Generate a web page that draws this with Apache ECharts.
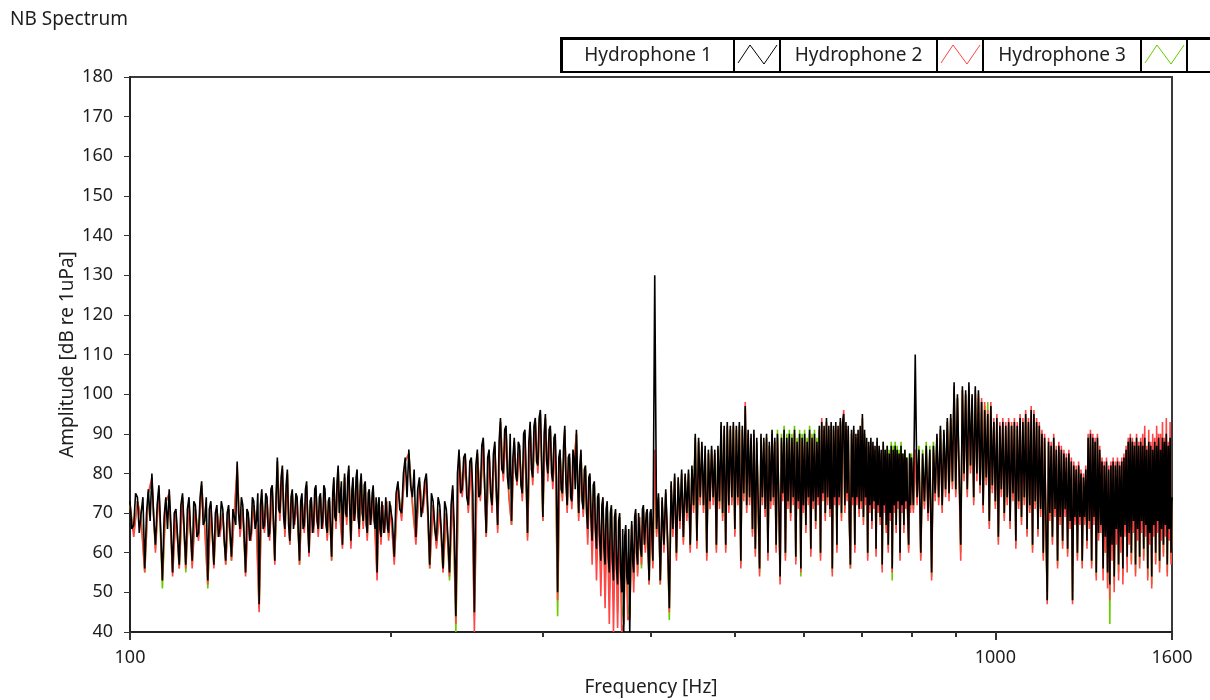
<!DOCTYPE html>
<html>
<head>
<meta charset="utf-8">
<title>NB Spectrum</title>
<script src="https://cdn.jsdelivr.net/npm/echarts@6/dist/echarts.min.js"></script>
<style>
  html, body { margin: 0; padding: 0; background: #fff; }
  #chart { width: 1210px; height: 700px; }
</style>
</head>
<body>
<div id="chart"></div>
<script>
// frequency bins, one octave per band: f = bandStart + i * step (Hz)
const bandStart = [100, 200, 400, 800]
const h1Step = [0.5, 1, 2, 4]   // hydrophone 1 has the finer resolution at low f
const h23Step = [1, 2, 2, 4]

const seriesNames = ['Hydrophone 1', 'Hydrophone 2', 'Hydrophone 3']
const seriesColors = ['#000000', '#ff4545', '#66cc00']

const yTicks = [40, 180, 10] // min, max, interval
const xMajorTicks = [100, 1000, 1600]
const xMinorTicks = [200, 300, 400, 500, 600, 700, 800, 900]

// Hydrophone 1 [dB re 1uPa]
const h1Band1 = [
  73, 66, 67, 75, 74, 65, 70, 74, 56, 70, 76, 68, 80, 69, 62, 72, 77, 66, 53, 69,
  74, 66, 76, 67, 55, 70, 71, 64, 57, 72, 75, 66, 57, 71, 74, 65, 58, 73, 72, 64,
  65, 74, 78, 67, 68, 74, 53, 71, 73, 65, 57, 70, 72, 64, 66, 73, 71, 63, 58, 70,
  72, 65, 59, 71, 71, 67, 83, 70, 66, 74, 72, 64, 55, 71, 70, 63, 65, 74, 73, 66,
  68, 75, 47, 72, 76, 66, 67, 75, 74, 64, 65, 76, 77, 68, 58, 74, 84, 71, 70, 79,
  82, 69, 66, 77, 81, 67, 63, 74, 76, 66, 69, 75, 74, 65, 58, 73, 75, 66, 67, 76,
  78, 67, 60, 73, 74, 65, 67, 76, 77, 68, 66, 74, 75, 66, 68, 77, 76, 67, 65, 73,
  74, 66, 59, 75, 79, 69, 68, 78, 82, 70, 70, 78, 62, 73, 80, 70, 69, 79, 82, 71,
  63, 76, 79, 68, 70, 79, 81, 69, 66, 77, 80, 70, 68, 77, 78, 67, 65, 75, 76, 67,
  69, 75, 77, 68, 66, 74, 55, 72, 74, 66, 64, 73, 73, 65, 67, 74, 74, 66, 65, 73
]
const h1Band2 = [
  73, 68, 59, 75, 78, 71, 70, 80, 84, 74, 86, 77, 74, 81, 64, 76, 79, 69, 72, 78,
  80, 70, 57, 75, 73, 66, 63, 74, 72, 65, 56, 73, 71, 64, 55, 72, 77, 66, 44, 80,
  86, 75, 76, 84, 85, 74, 72, 83, 84, 75, 45, 82, 86, 74, 75, 87, 89, 76, 65, 84,
  86, 75, 72, 85, 88, 76, 67, 88, 94, 81, 80, 91, 92, 79, 76, 90, 68, 84, 89, 80,
  78, 88, 87, 77, 75, 90, 91, 79, 65, 88, 93, 81, 79, 92, 94, 83, 82, 94, 96, 84,
  69, 90, 95, 83, 80, 91, 92, 80, 78, 89, 90, 79, 50, 84, 86, 76, 75, 87, 92, 78,
  72, 84, 85, 74, 73, 86, 84, 76, 91, 78, 70, 82, 86, 73, 71, 81, 82, 70, 66, 79,
  80, 69, 63, 77, 78, 66, 61, 74, 75, 63, 58, 72, 74, 61, 57, 71, 73, 59, 55, 70,
  72, 58, 53, 69, 71, 56, 52, 68, 70, 55, 50, 66, 40, 64, 67, 54, 52, 66, 40, 60,
  68, 58, 55, 69, 71, 60, 57, 70, 70, 61, 59, 71, 72, 62, 62, 70, 71, 60, 53, 70
]
const h1Band3 = [
  71, 58, 130, 66, 75, 53, 74, 62, 76, 64,
  46, 78, 66, 80, 60, 79, 68, 81, 64, 80,
  70, 81, 62, 82, 72, 90, 63, 89, 74, 88,
  72, 87, 60, 86, 73, 87, 74, 86, 62, 87,
  73, 93, 70, 92, 62, 93, 72, 92, 74, 93,
  66, 92, 74, 93, 58, 92, 75, 97, 72, 91,
  74, 90, 66, 91, 61, 89, 73, 56, 90, 74,
  89, 71, 90, 60, 88, 73, 91, 74, 89, 62,
  90, 74, 54, 89, 75, 91, 60, 89, 73, 90,
  70, 89, 74, 91, 59, 88, 73, 90, 56, 89,
  72, 90, 67, 88, 74, 91, 61, 89, 73, 90,
  68, 88, 74, 92, 60, 93, 75, 92, 70, 94,
  74, 92, 71, 93, 56, 92, 74, 93, 62, 92,
  74, 94, 70, 93, 95, 72, 93, 75, 92, 69,
  57, 91, 74, 92, 62, 90, 74, 91, 71, 92,
  73, 95, 69, 91, 74, 89, 60, 88, 72, 89,
  68, 88, 73, 87, 61, 89, 72, 87, 69, 86,
  57, 88, 72, 86, 67, 87, 62, 85, 70, 87,
  56, 86, 72, 87, 67, 86, 73, 85, 60, 87,
  72, 85, 67, 86, 73, 84, 70, 62, 85, 72
]
const h1Band4 = [
  84, 72, 110, 74, 86, 60, 85, 73, 87, 70,
  86, 55, 87, 75, 90, 74, 92, 72, 91, 76,
  94, 75, 95, 78, 103, 76, 100, 81, 62, 102,
  80, 101, 76, 103, 82, 100, 74, 102, 80, 101,
  77, 98, 72, 96, 79, 95, 68, 97, 77, 93,
  73, 94, 64, 92, 76, 93, 70, 92, 74, 93,
  68, 92, 75, 93, 63, 92, 73, 94, 69, 93,
  74, 95, 66, 93, 72, 96, 62, 95, 73, 93,
  66, 92, 71, 90, 60, 89, 68, 48, 88, 70,
  87, 64, 89, 71, 86, 58, 87, 69, 86, 63,
  85, 71, 84, 61, 85, 68, 83, 48, 82, 69,
  81, 60, 82, 69, 80, 58, 79, 69, 81, 63,
  89, 68, 90, 58, 89, 69, 88, 55, 89, 65,
  86, 67, 83, 56, 82, 64, 83, 55, 81, 52,
  82, 62, 83, 54, 82, 66, 83, 57, 82, 64,
  83, 56, 84, 67, 86, 59, 88, 65, 89, 60,
  88, 68, 87, 57, 89, 66, 87, 59, 88, 68,
  87, 61, 89, 67, 86, 56, 88, 65, 87, 54,
  86, 67, 88, 60, 87, 68, 89, 58, 86, 66,
  89, 62, 88, 67, 90, 57, 87, 66, 89, 60,
  74
]

// Hydrophone 2
const h2Band1 = [
  72, 64, 73, 68, 55, 75, 79, 60, 76, 53,
  73, 75, 54, 70, 56, 74, 56, 73, 56, 71,
  63, 77, 66, 52, 72, 56, 71, 64, 70, 57,
  71, 58, 70, 82, 64, 71, 54, 69, 63, 72,
  66, 45, 75, 65, 73, 63, 76, 57, 83, 68,
  81, 64, 80, 62, 75, 67, 73, 57, 74, 65,
  77, 59, 73, 65, 76, 64, 74, 66, 75, 63,
  73, 58, 78, 66, 81, 68, 61, 79, 67, 81,
  61, 78, 68, 80, 64, 79, 66, 77, 63, 75,
  67, 76, 64, 53, 73, 62, 72, 65, 73, 63
]
const h2Band2 = [
  72, 57, 77, 68, 83, 85, 72, 62, 78, 70,
  79, 56, 72, 61, 71, 55, 70, 54, 76, 42,
  85, 74, 84, 70, 83, 40, 85, 73, 88, 64,
  85, 70, 87, 65, 93, 78, 91, 74, 67, 88,
  77, 86, 73, 90, 63, 92, 77, 93, 80, 95,
  68, 94, 78, 91, 76, 89, 48, 85, 73, 91,
  70, 84, 71, 83, 90, 68, 85, 69, 81, 62,
  79, 57, 77, 53, 74, 49, 73, 46, 72, 42,
  71, 40, 70, 41, 69, 40, 42, 66, 43, 44,
  67, 50, 70, 54, 69, 57, 71, 60, 70, 52
]
const h2Band3 = [
  70, 56, 86, 64, 74, 52, 73, 60, 75, 62,
  45, 77, 64, 79, 58, 78, 66, 80, 62, 79,
  68, 80, 60, 81, 70, 89, 61, 88, 72, 87,
  70, 86, 58, 85, 71, 86, 72, 85, 60, 86,
  71, 92, 68, 91, 60, 92, 70, 91, 72, 92,
  64, 91, 72, 92, 56, 91, 73, 98, 70, 90,
  72, 89, 64, 90, 59, 88, 71, 54, 89, 72,
  88, 69, 89, 58, 87, 71, 90, 72, 88, 60,
  89, 72, 52, 88, 73, 90, 58, 88, 71, 89,
  68, 88, 72, 90, 57, 87, 71, 89, 55, 88,
  70, 89, 65, 87, 72, 90, 59, 88, 71, 89,
  66, 87, 72, 91, 58, 94, 73, 91, 68, 93,
  72, 91, 69, 92, 54, 91, 72, 92, 60, 91,
  72, 93, 68, 92, 96, 70, 92, 73, 91, 67,
  56, 90, 72, 91, 60, 89, 72, 90, 69, 91,
  71, 94, 67, 90, 72, 88, 58, 87, 70, 88,
  66, 87, 71, 86, 59, 88, 70, 86, 67, 85,
  55, 87, 70, 85, 65, 86, 60, 84, 68, 86,
  55, 85, 70, 86, 65, 85, 71, 84, 58, 86,
  70, 84, 65, 85, 71, 83, 68, 60, 84, 70
]
const h2Band4 = [
  83, 70, 86, 72, 85, 58, 84, 71, 86, 68,
  85, 53, 86, 73, 89, 72, 91, 70, 90, 74,
  93, 73, 94, 76, 102, 74, 99, 79, 58, 101,
  78, 100, 74, 102, 80, 99, 72, 101, 78, 100,
  75, 99, 70, 98, 77, 96, 66, 98, 75, 94,
  71, 95, 62, 93, 74, 94, 68, 93, 72, 94,
  66, 93, 73, 94, 61, 93, 71, 95, 67, 94,
  72, 96, 64, 94, 70, 97, 60, 96, 71, 94,
  64, 93, 69, 91, 58, 90, 66, 47, 89, 68,
  88, 62, 90, 69, 87, 56, 88, 67, 87, 61,
  86, 69, 85, 59, 86, 66, 84, 47, 83, 67,
  82, 58, 83, 67, 81, 56, 80, 67, 82, 61,
  90, 66, 91, 56, 90, 67, 89, 53, 90, 63,
  87, 65, 84, 53, 83, 60, 84, 51, 82, 48,
  83, 58, 84, 50, 83, 62, 84, 53, 83, 60,
  84, 52, 85, 64, 87, 55, 89, 62, 90, 57,
  89, 65, 88, 54, 90, 63, 88, 56, 89, 65,
  90, 58, 92, 64, 87, 53, 91, 62, 88, 51,
  90, 64, 89, 57, 92, 65, 90, 55, 90, 63,
  93, 59, 89, 64, 94, 54, 88, 63, 93, 57,
  72
]

// Hydrophone 3
const h3Band1 = [
  72, 65, 73, 69, 55, 75, 78, 61, 76, 51,
  73, 74, 55, 70, 56, 74, 55, 73, 57, 71,
  64, 77, 67, 51, 72, 57, 71, 65, 70, 57,
  71, 58, 70, 81, 65, 71, 55, 69, 64, 72,
  67, 46, 75, 66, 73, 64, 76, 58, 83, 69,
  81, 65, 80, 62, 75, 68, 73, 57, 74, 66,
  77, 60, 73, 66, 76, 65, 74, 67, 75, 64,
  73, 58, 78, 67, 81, 69, 62, 79, 68, 81,
  62, 78, 69, 80, 65, 79, 67, 77, 64, 75,
  68, 76, 65, 55, 73, 63, 72, 66, 73, 64
]
const h3Band2 = [
  72, 58, 77, 69, 83, 85, 73, 63, 78, 71,
  79, 56, 72, 62, 71, 55, 70, 53, 76, 40,
  85, 75, 84, 71, 83, 44, 85, 74, 88, 64,
  85, 71, 87, 66, 93, 79, 91, 75, 67, 88,
  77, 86, 74, 90, 64, 92, 78, 93, 81, 95,
  68, 94, 79, 91, 77, 89, 44, 85, 74, 91,
  71, 84, 72, 83, 90, 69, 85, 70, 81, 64,
  79, 61, 77, 58, 74, 55, 73, 52, 72, 50,
  71, 48, 70, 45, 69, 47, 42, 66, 47, 43,
  67, 53, 70, 55, 69, 56, 71, 61, 70, 52
]
const h3Band3 = [
  70, 57, 84, 65, 74, 52, 73, 61, 75, 63,
  43, 77, 65, 79, 59, 78, 67, 80, 63, 79,
  69, 80, 61, 81, 71, 89, 62, 88, 73, 87,
  71, 86, 59, 85, 72, 86, 73, 85, 61, 86,
  72, 92, 69, 91, 61, 92, 71, 91, 73, 92,
  65, 91, 73, 92, 57, 91, 74, 96, 71, 90,
  73, 89, 65, 90, 60, 88, 72, 55, 89, 73,
  88, 70, 89, 59, 87, 72, 90, 73, 88, 61,
  91, 73, 53, 90, 74, 92, 59, 90, 72, 91,
  69, 90, 73, 92, 58, 89, 72, 91, 54, 90,
  71, 91, 66, 89, 73, 92, 60, 90, 72, 91,
  67, 89, 73, 91, 59, 92, 74, 91, 69, 93,
  73, 91, 70, 92, 55, 91, 73, 92, 61, 91,
  73, 93, 69, 92, 94, 71, 92, 74, 91, 68,
  56, 90, 73, 91, 61, 89, 73, 90, 70, 91,
  72, 94, 68, 90, 73, 88, 59, 87, 71, 88,
  67, 87, 72, 86, 60, 88, 71, 86, 68, 85,
  56, 88, 71, 86, 66, 87, 61, 86, 69, 88,
  53, 87, 71, 88, 66, 87, 72, 86, 59, 88,
  71, 85, 66, 86, 72, 84, 69, 61, 85, 71
]
const h3Band4 = [
  85, 71, 84, 73, 87, 59, 86, 72, 88, 69,
  87, 54, 88, 74, 89, 73, 91, 71, 90, 75,
  93, 74, 94, 77, 101, 75, 99, 80, 60, 101,
  79, 100, 75, 101, 81, 99, 73, 100, 80, 99,
  76, 98, 71, 97, 78, 98, 67, 97, 76, 93,
  72, 93, 63, 92, 75, 92, 69, 91, 73, 92,
  67, 92, 74, 92, 62, 91, 72, 93, 68, 92,
  73, 94, 65, 92, 71, 95, 61, 94, 72, 92,
  65, 91, 70, 89, 59, 88, 67, 48, 87, 69,
  86, 63, 88, 70, 85, 57, 86, 68, 85, 62,
  84, 70, 83, 60, 84, 67, 82, 48, 81, 68,
  80, 59, 81, 68, 79, 57, 78, 68, 80, 62,
  88, 67, 89, 57, 88, 68, 87, 54, 88, 64,
  85, 66, 82, 55, 81, 60, 82, 53, 80, 42,
  81, 60, 82, 52, 81, 64, 82, 55, 81, 62,
  82, 54, 83, 65, 85, 57, 87, 63, 88, 58,
  87, 66, 86, 55, 88, 64, 86, 57, 87, 66,
  86, 59, 88, 65, 85, 54, 87, 63, 86, 52,
  85, 65, 87, 58, 86, 66, 88, 56, 85, 64,
  88, 60, 87, 65, 89, 55, 86, 64, 88, 58,
  73
]

const FONT = "'Noto Sans', 'DejaVu Sans', sans-serif"
const TEXT_COLOR = '#1e1e1e'

function toPoints(bands, steps) {
  const pts = []
  bands.forEach((vals, b) => {
    vals.forEach((v, i) => {
      pts.push([bandStart[b] + i * steps[b], v])
    })
  })
  return pts
}

const seriesData = [
  toPoints([h1Band1, h1Band2, h1Band3, h1Band4], h1Step),
  toPoints([h2Band1, h2Band2, h2Band3, h2Band4], h23Step),
  toPoints([h3Band1, h3Band2, h3Band3, h3Band4], h23Step)
]

// LabVIEW-like legend: black frame with white cells [x, width]
const labelCells = [[563, 170], [781, 155], [984, 156]]
const iconCells = [[735, 44], [938, 44], [1142, 44]]
const spareCell = [1188, 30]
const zig = [[3, 23], [15, 5], [29, 24], [42, 5]] // sample shape inside an icon cell

function cellRect(c) {
  return {
    type: 'rect', silent: true, z: 1,
    shape: { x: c[0], y: 40, width: c[1], height: 31 },
    style: { fill: '#fff' }
  }
}

const legendGraphics = [
  { type: 'rect', silent: true, z: 0, shape: { x: 560, y: 37, width: 660, height: 36 }, style: { fill: '#000' } }
]
  .concat(labelCells.map(cellRect), iconCells.map(cellRect), [cellRect(spareCell)])
  .concat(labelCells.map((c, i) => ({
    type: 'text', silent: true, z: 2,
    style: {
      text: seriesNames[i], x: c[0] + c[1] / 2, y: 56,
      align: 'center', verticalAlign: 'middle',
      fontSize: 19, fontFamily: FONT, fill: TEXT_COLOR
    }
  })))
  .concat(iconCells.map((c, i) => ({
    type: 'polyline', silent: true, z: 2,
    shape: { points: zig.map(p => [c[0] + p[0], 40 + p[1]]) },
    style: { stroke: seriesColors[i], lineWidth: 1, fill: null }
  })))

const chart = echarts.init(document.getElementById('chart'))

chart.setOption({
  animation: false,
  backgroundColor: '#fff',
  textStyle: { fontFamily: FONT },
  title: {
    text: 'NB Spectrum',
    left: 10,
    top: 10,
    padding: 0,
    textStyle: { fontSize: 19, fontWeight: 'normal', color: TEXT_COLOR, fontFamily: FONT }
  },
  graphic: { elements: legendGraphics },
  grid: {
    left: 130,
    right: 38,
    top: 77,
    bottom: 68,
    outerBoundsMode: 'none',
    show: true,
    borderColor: '#3a3a3a',
    borderWidth: 2
  },
  xAxis: [
    {
      type: 'log',
      logBase: 10,
      min: 100,
      max: 1600,
      name: 'Frequency [Hz]',
      nameLocation: 'middle',
      nameGap: 46,
      nameMoveOverlap: false,
      nameTextStyle: { fontSize: 19, color: TEXT_COLOR, fontFamily: FONT },
      axisLine: { lineStyle: { color: '#222', width: 2 } },
      axisTick: { show: true, length: 8, customValues: xMajorTicks, lineStyle: { color: '#333', width: 2 } },
      axisLabel: {
        customValues: xMajorTicks,
        formatter: v => String(Math.round(v)),
        fontSize: 18, color: TEXT_COLOR, margin: 17, fontFamily: FONT
      },
      splitLine: { show: false },
      minorTick: { show: false }
    },
    {
      type: 'log',
      logBase: 10,
      min: 100,
      max: 1600,
      position: 'bottom',
      axisLine: { show: false },
      axisTick: { show: true, length: 5, customValues: xMinorTicks, lineStyle: { color: '#333', width: 2 } },
      axisLabel: { show: false },
      splitLine: { show: false }
    }
  ],
  yAxis: {
    type: 'value',
    min: yTicks[0],
    max: yTicks[1],
    interval: yTicks[2],
    name: 'Amplitude [dB re 1uPa]',
    nameLocation: 'middle',
    nameRotate: 90,
    nameGap: 53,
    nameMoveOverlap: false,
    nameTextStyle: { fontSize: 19, color: TEXT_COLOR, fontFamily: FONT },
    axisLine: { show: true, lineStyle: { color: '#222', width: 2 } },
    axisTick: { show: true, length: 6, lineStyle: { color: '#333', width: 1 } },
    axisLabel: { fontSize: 18, color: TEXT_COLOR, margin: 17, fontFamily: FONT },
    splitLine: { show: false }
  },
  series: seriesNames.map((n, i) => ({
    name: n,
    type: 'line',
    xAxisIndex: 0,
    data: seriesData[i],
    symbol: 'none',
    showSymbol: false,
    z: 4 - i,
    color: seriesColors[i],
    lineStyle: { color: seriesColors[i], width: 1.6 },
    emphasis: { disabled: true }
  }))
})
</script>
</body>
</html>
